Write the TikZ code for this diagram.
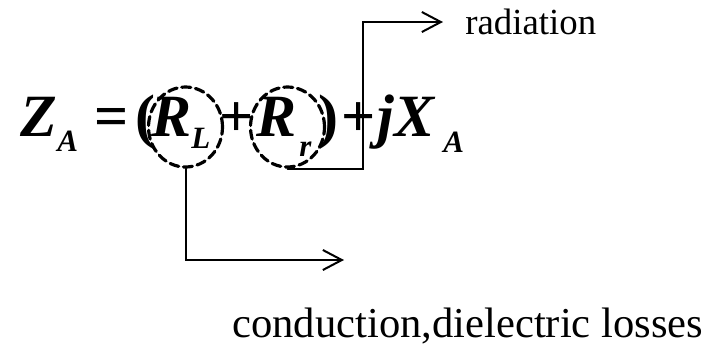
\documentclass[tikz,border=0pt]{standalone}
\usepackage{fontspec}
\setmainfont{Liberation Serif}
\usetikzlibrary{arrows.meta,shapes.geometric}

\begin{document}
\begin{tikzpicture}[x=0.5pt,y=-0.5pt,>={Straight Barb[length=9.5pt,width=10pt]},line cap=round,
  eq/.style={anchor=base west,inner sep=0pt,font=\fontsize{30}{34}\selectfont\bfseries\itshape},
  equp/.style={anchor=base west,inner sep=0pt,font=\fontsize{30}{34}\selectfont\bfseries},
  sub/.style={anchor=base west,inner sep=0pt,font=\fontsize{15.5}{18}\selectfont\bfseries\itshape},
  ring/.style={ellipse,draw,line width=1.6pt,dash pattern=on 4.5pt off 2.4pt,minimum width=37pt,minimum height=40pt,inner sep=0pt},
  lead/.style={line width=1pt}]
\useasboundingbox (0,0) rectangle (723,345);
% impedance
\node[eq] (zz) at (20,136) {Z};
\node[sub] (za) at (57,151) {A};
\node[equp] (eqs) at (94,136) {=};
\node[equp] (lpar) at (135,136) {(};
\node[eq] (rl) at (151,136) {R};
\node[sub] (rlsub) at (191,148) {L};
\node[equp] (plus1) at (219,136) {+};
\node[eq] (rr) at (256,136) {R};
\node[sub] (rrsub) at (299,156) {r};
\node[equp] (rpar) at (318,136) {)};
\node[equp] (plus2) at (341,136) {+};
\node[eq] (jx) at (377,136) {jX};
\node[sub] (xa) at (443,152) {A};
% dashed rings
\node[ring] (RL) at (185.5,127) {};
\node[ring] (Rr) at (287.5,127) {};
% labels
\node[anchor=base west,inner sep=0pt,font=\fontsize{18.4}{21}\selectfont] (rad) at (465,34) {radiation};
\node[anchor=base west,inner sep=0pt,font=\fontsize{21.3}{25}\selectfont] (loss) at (232,337) {conduction,dielectric losses};
\coordinate (radbend) at (363,22);
\coordinate (radtip) at (443,22);
\coordinate (losstip) at (344,260);
\draw[lead,->] (Rr.south) -| (radbend) -- (radtip);
\draw[lead,->] (RL.south) |- (losstip);
\end{tikzpicture}
\end{document}
